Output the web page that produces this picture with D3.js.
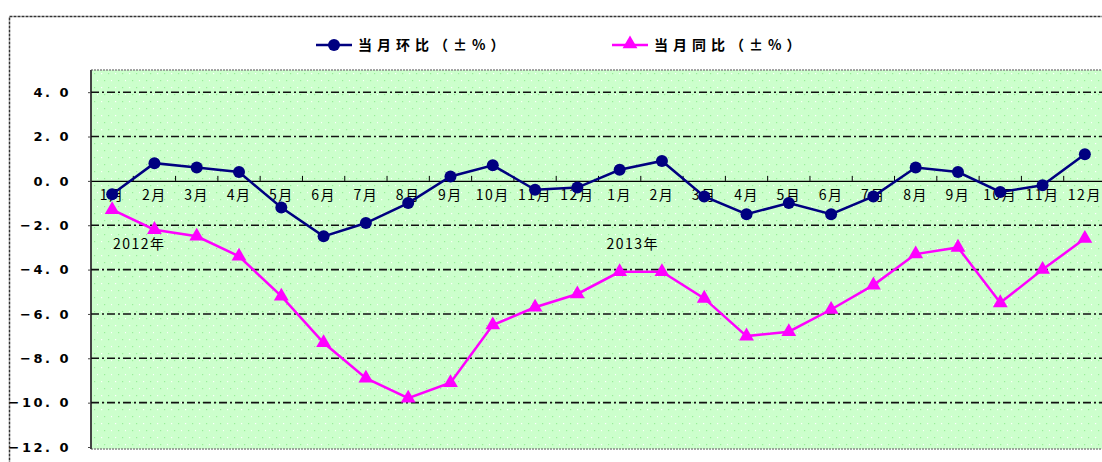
<!DOCTYPE html>
<html><head><meta charset="utf-8">
<script src="https://cdn.jsdelivr.net/npm/d3@7"></script>
<style>body{margin:0;background:#fff}svg{display:block}</style>
</head><body>
<script>
const years = ["2012年","2013年"];
const months = ["1月","2月","3月","4月","5月","6月","7月","8月","9月","10月","11月","12月"];
const categories = [];
years.forEach((y,i)=>months.forEach(m=>categories.push(y+m)));
const monthLabels = categories.map(c=>c.slice(5));
const seriesNames = ["当月环比（±%）","当月同比（±%）"];
const momValues = [-0.6,0.8,0.6,0.4,-1.2,-2.5,-1.9,-1.0,0.2,0.7,-0.4,-0.3,
                   0.5,0.9,-0.7,-1.5,-1.0,-1.5,-0.7,0.6,0.4,-0.5,-0.2,1.2];
const yoyValues = [-1.3,-2.2,-2.5,-3.4,-5.2,-7.3,-8.9,-9.8,-9.1,-6.5,-5.7,-5.1,
                   -4.1,-4.1,-5.3,-7.0,-6.8,-5.8,-4.7,-3.3,-3.0,-5.5,-4.0,-2.6];
const yTicks = [4,2,0,-2,-4,-6,-8,-10,-12];

const W=1102,H=462;
const svg=d3.select("body").append("svg").attr("width",W).attr("height",H);
const plot={l:91,t:70,b:449,r:1106};
const x=d3.scaleBand().domain(categories).range([plot.l,plot.r]);
const y=d3.scaleLinear().domain([-12,5]).range([plot.b-2,plot.t]);
const cx=d=>x(d)+x.bandwidth()/2;

const defs=svg.append("defs");
const pat=defs.append("pattern").attr("id","dots").attr("patternUnits","userSpaceOnUse").attr("width",14).attr("height",14);
pat.append("rect").attr("width",14).attr("height",14).attr("fill","#ccffcc");
pat.append("rect").attr("x",3).attr("y",3).attr("width",1.2).attr("height",1.2).attr("fill","#ffffff");
pat.append("rect").attr("x",10).attr("y",3).attr("width",1.2).attr("height",1.2).attr("fill","#99ee99");
pat.append("rect").attr("x",6).attr("y",10).attr("width",1.2).attr("height",1.2).attr("fill","#99ee99");
pat.append("rect").attr("x",13).attr("y",10).attr("width",1.2).attr("height",1.2).attr("fill","#ffffff");

// outer frame
svg.append("rect").attr("x",9.5).attr("y",16.5).attr("width",W).attr("height",H).attr("fill","none")
  .attr("stroke","#333").attr("stroke-width",1.5).attr("stroke-dasharray","3,1");

// plot area
svg.append("rect").attr("x",plot.l).attr("y",plot.t).attr("width",W-plot.l+5).attr("height",plot.b-plot.t)
  .attr("fill","url(#dots)").attr("stroke","#888").attr("stroke-width",1.5).attr("stroke-dasharray","2,1");
svg.append("line").attr("x1",plot.l).attr("x2",plot.l).attr("y1",plot.t).attr("y2",plot.b)
  .attr("stroke","#444").attr("stroke-width",2);

// gridlines
svg.append("g").selectAll("line").data(yTicks.filter(t=>t!==0&&t!==-12)).join("line")
  .attr("x1",plot.l).attr("x2",W).attr("y1",d=>y(d)).attr("y2",d=>y(d))
  .attr("stroke","#111").attr("stroke-width",1.6).attr("stroke-dasharray","8,3,2,3");

// y axis
const yAxis=d3.axisLeft(y).tickValues(yTicks).tickSize(3).tickFormat(d3.format(".1f"));
const ya=svg.append("g").attr("transform",`translate(${plot.l},0)`).call(yAxis);
ya.select(".domain").remove();
ya.selectAll("line").attr("stroke","#444");
ya.selectAll("text").attr("x",-20).attr("font-family","DejaVu Sans, sans-serif")
  .attr("font-weight","bold").attr("font-size",13).attr("letter-spacing","2.5px").attr("fill","#000")
  .text(d=>d3.format(".1f")(d).replace("-","−").replace(".",". "));

// x axis at zero
const xAxis=d3.axisBottom(x).tickSize(0).tickFormat((d,i)=>monthLabels[i]);
const xa=svg.append("g").attr("transform",`translate(0,${y(0)})`).call(xAxis);
xa.select(".domain").attr("stroke","#000").attr("stroke-width",1.2);
xa.selectAll("text").attr("dy","0.2em").attr("y",16).attr("font-family","Noto Sans CJK SC, sans-serif")
  .attr("font-size",14).attr("letter-spacing","1.5px").attr("fill","#000");
// boundary ticks
svg.append("g").selectAll("line").data(categories.slice(1)).join("line")
  .attr("x1",d=>x(d)).attr("x2",d=>x(d)).attr("y1",y(0)).attr("y2",y(0)-5)
  .attr("stroke","#000").attr("stroke-width",1);

// year labels
svg.append("g").selectAll("text").data(years).join("text")
  .attr("x",(d,i)=>(cx(categories[i*12])+cx(categories[i*12+1]))/2+ (i===0?6:-8))
  .attr("y",y(-3.05)).attr("text-anchor","middle")
  .attr("font-family","Noto Sans CJK SC, sans-serif").attr("font-size",14).attr("letter-spacing","1.5px")
  .text(d=>d);

// lines
const line=d3.line().x((d,i)=>cx(categories[i])).y(d=>y(d));
svg.append("path").datum(yoyValues).attr("d",line).attr("fill","none").attr("stroke","#ff00ff").attr("stroke-width",2.5);
svg.append("g").selectAll("path").data(yoyValues).join("path")
  .attr("d",d3.symbol(d3.symbolTriangle,95))
  .attr("transform",(d,i)=>`translate(${cx(categories[i])},${y(d)})`).attr("fill","#ff00ff");

svg.append("path").datum(momValues).attr("d",line).attr("fill","none").attr("stroke","#000080").attr("stroke-width",2.5);
svg.append("g").selectAll("circle").data(momValues).join("circle")
  .attr("cx",(d,i)=>cx(categories[i])).attr("cy",d=>y(d)).attr("r",6).attr("fill","#000080");

// legend
const lg=[{x:316,c:"#000080",s:"circle"},{x:612,c:"#ff00ff",s:"tri"}];
lg.forEach((l,i)=>{
  const g=svg.append("g");
  g.append("line").attr("x1",l.x).attr("x2",l.x+36).attr("y1",45).attr("y2",45).attr("stroke",l.c).attr("stroke-width",2.5);
  if(l.s==="circle") g.append("circle").attr("cx",l.x+18).attr("cy",45).attr("r",6).attr("fill",l.c);
  else g.append("path").attr("d",d3.symbol(d3.symbolTriangle,95)).attr("transform",`translate(${l.x+18},44)`).attr("fill",l.c);
  g.append("text").attr("x",l.x+42).attr("y",45).attr("dy","0.35em")
    .attr("font-family","Noto Sans CJK SC, sans-serif").attr("font-weight","bold").attr("font-size",14)
    .attr("letter-spacing","5px").text(seriesNames[i]);
});
</script>
</body></html>
